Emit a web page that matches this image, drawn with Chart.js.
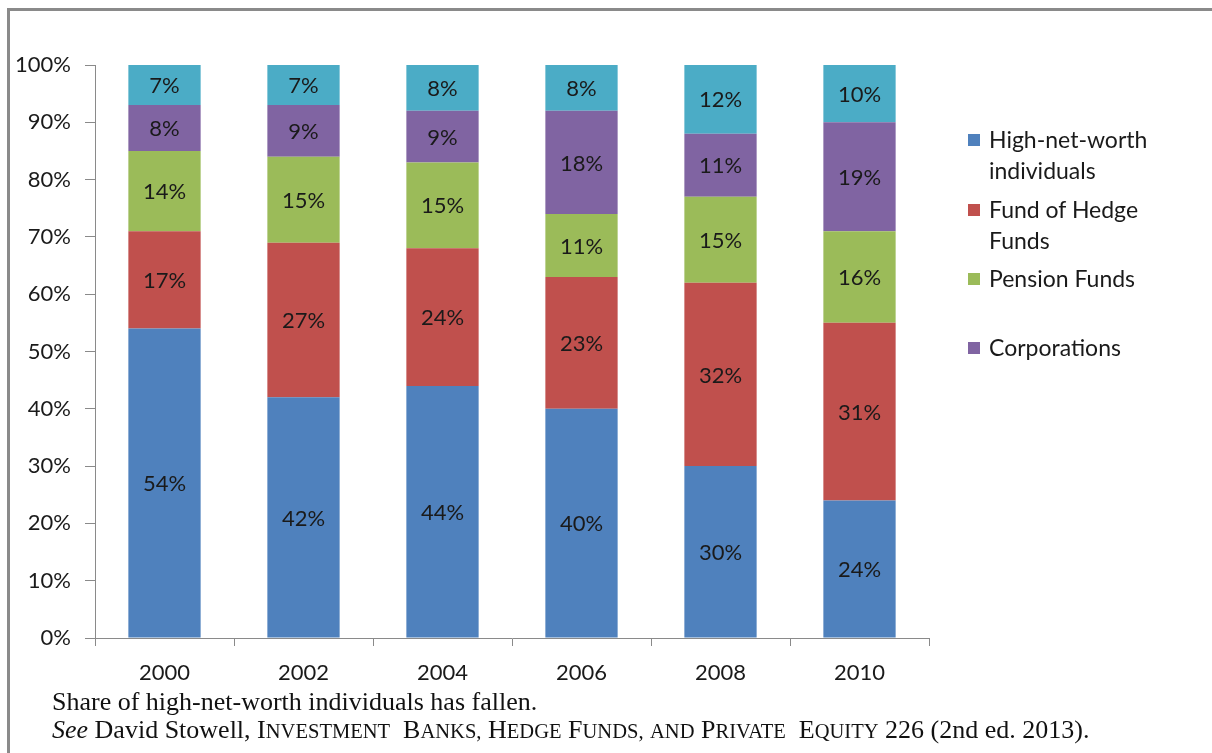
<!DOCTYPE html>
<html>
<head>
<meta charset="utf-8">
<script src="https://cdn.jsdelivr.net/npm/chart.js@4.4.0/dist/chart.umd.min.js"></script>
<style>
  html, body { margin: 0; padding: 0; background: #fff; }
  #wrap { position: relative; width: 1212px; height: 753px; overflow: hidden; }
  #frame { position: absolute; left: 7px; top: 8px; right: -10px; bottom: -10px;
           border-top: 3px solid #8a8a8a; border-left: 3px solid #8a8a8a; }
  #legend { position: absolute; left: 968px; top: 124px; font-family: Lato, sans-serif;
            font-size: 23px; color: #1a1a1a; }
  .item { position: absolute; left: 0; width: 220px; }
  .box { position: absolute; left: 0; top: 10px; width: 12px; height: 12px; }
  .txt { position: absolute; left: 21px; top: 0; line-height: 31px; white-space: nowrap; }
  .note { position: absolute; left: 52px; font-family: "Liberation Serif", "Times New Roman", serif;
          font-size: 26px; line-height: 30px; color: #111; white-space: nowrap; }
  .sm { font-size: 0.79em; }
</style>
</head>
<body>
<div id="wrap">
  <canvas id="chart" width="1212" height="753"></canvas>
  <div id="frame"></div>
  <div id="legend"></div>
  <div class="note" style="top:687px">Share of high-net-worth individuals has fallen.</div>
  <div class="note" style="top:715px"><i>See</i> David Stowell, <span id="livro"></span> 226 (2nd ed. 2013).</div>
</div>
<script>
// Dados
const anos = ['2000', '2002', '2004', '2006', '2008', '2010'];
const highNetWorth = [54, 42, 44, 40, 30, 24];
const fundOfHedge = [17, 27, 24, 23, 32, 31];
const pensionFunds = [14, 15, 15, 11, 15, 16];
const corporations = [8, 9, 9, 18, 11, 19];
const outros = [7, 7, 8, 8, 12, 10];

const nomes = ['High-net-worth individuals', 'Fund of Hedge Funds', 'Pension Funds', 'Corporations', 'Other'];
const cores = ['#4f81bd', '#c0504d', '#9bbb59', '#8064a2', '#4bacc6'];

// legenda (sem a série "Other", como no original)
const legendaTextos = [['High-net-worth', 'individuals'], ['Fund of Hedge', 'Funds'], ['Pension Funds'], ['Corporations']];
const legendaTopos = [0, 70, 139, 208];
const legend = document.getElementById('legend');
legend.innerHTML = legendaTextos.map((linhas, i) => `
  <div class="item" style="top:${legendaTopos[i]}px">
    <div class="box" style="background:${cores[i]}"></div>
    <div class="txt">${linhas.join('<br>')}</div>
  </div>`).join('');

// título do livro em versalete "manual"
const livro = 'Investment  Banks, Hedge Funds, and Private  Equity';
document.getElementById('livro').innerHTML = livro.split(' ').map(p => {
  if (!p) return '';
  const primeira = p[0];
  const resto = p.slice(1).toUpperCase();
  if (primeira === primeira.toUpperCase()) return primeira + '<span class="sm">' + resto + '</span>';
  return '<span class="sm">' + p.toUpperCase() + '</span>';
}).join(' ').replace(/  /g, '&nbsp; ');

// rótulos dentro das barras
const rotulosPlugin = {
  id: 'rotulos',
  afterDatasetsDraw(chart) {
    const ctx = chart.ctx;
    ctx.save();
    ctx.font = '22px Lato, sans-serif';
    ctx.fillStyle = '#1a1a1a';
    ctx.textAlign = 'center';
    ctx.textBaseline = 'middle';
    chart.data.datasets.forEach((ds, i) => {
      const meta = chart.getDatasetMeta(i);
      meta.data.forEach((bar, j) => {
        const y = (bar.y + bar.base) / 2;
        ctx.fillText(ds.data[j] + '%', bar.x, y + 1);
      });
    });
    ctx.restore();
  }
};

const series = [highNetWorth, fundOfHedge, pensionFunds, corporations, outros];

new Chart(document.getElementById('chart'), {
  type: 'bar',
  data: {
    labels: anos,
    datasets: series.map((valores, i) => ({
      label: nomes[i],
      data: valores,
      backgroundColor: cores[i],
      borderWidth: 0,
      categoryPercentage: 0.52,
      barPercentage: 1
    }))
  },
  options: {
    responsive: false,
    animation: false,
    devicePixelRatio: 1,
    layout: { padding: { top: 65, right: 283, left: 0, bottom: 0 } },
    plugins: {
      legend: { display: false },
      tooltip: { enabled: false }
    },
    scales: {
      x: {
        stacked: true,
        afterFit: (scale) => { scale.height = 115; },
        grid: { offset: true, drawOnChartArea: false, drawTicks: true, tickLength: 8, color: '#8a8a8a' },
        border: { color: '#8a8a8a', width: 1 },
        ticks: { font: { family: 'Lato', size: 22 }, color: '#1a1a1a', padding: 14, maxRotation: 0 }
      },
      y: {
        stacked: true,
        min: 0,
        max: 100,
        afterFit: (scale) => { scale.width = 95; },
        grid: { drawOnChartArea: false, drawTicks: true, tickLength: 10, color: '#8a8a8a' },
        border: { color: '#8a8a8a', width: 1 },
        ticks: {
          stepSize: 10,
          font: { family: 'Lato', size: 22 },
          color: '#1a1a1a',
          padding: 14,
          callback: (v) => v + '%'
        }
      }
    }
  },
  plugins: [rotulosPlugin]
});
</script>
</body>
</html>
